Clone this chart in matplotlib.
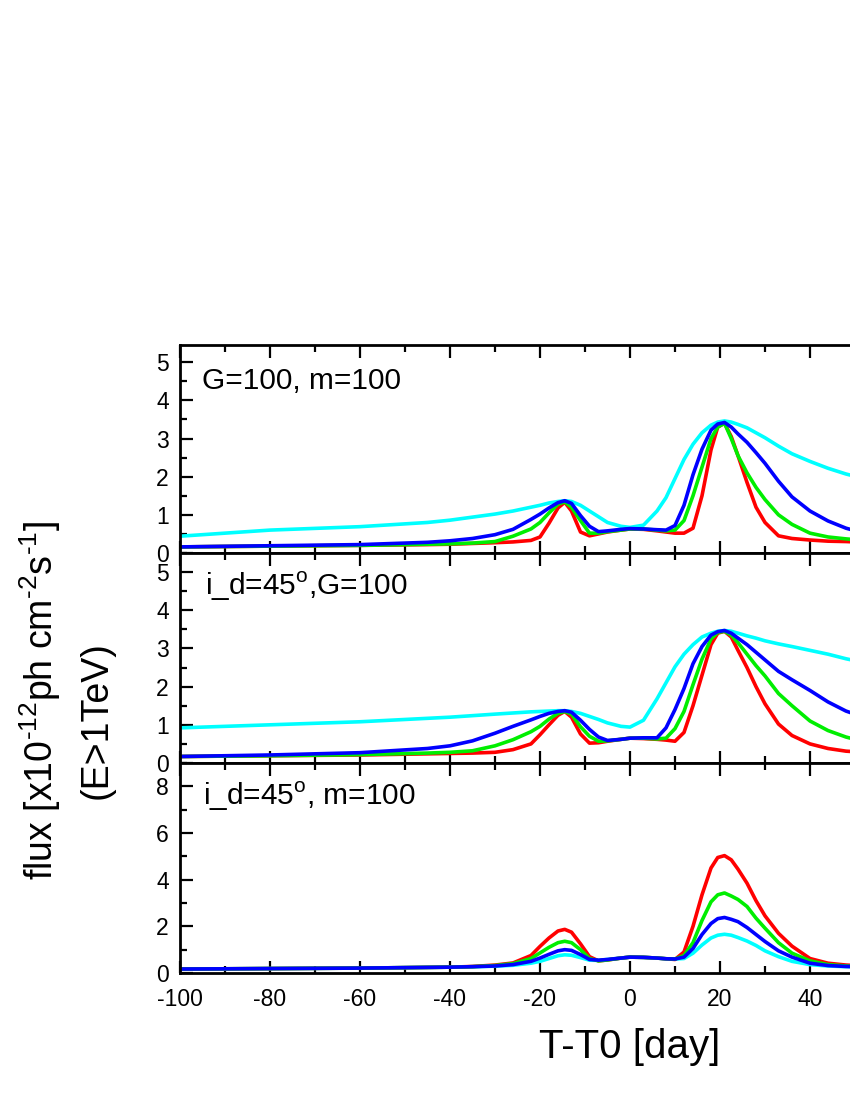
import matplotlib
matplotlib.use("Agg")
import matplotlib.pyplot as plt
from matplotlib.ticker import MultipleLocator, FixedLocator

plt.rcParams['font.family'] = ['Liberation Sans', 'DejaVu Sans']
plt.rcParams['mathtext.fontset'] = 'custom'
plt.rcParams['mathtext.rm'] = 'Liberation Sans'
plt.rcParams['axes.unicode_minus'] = False

# common time grid (days, T-T0)
t = [-100, -80, -60, -45, -40, -35, -30, -26, -22, -20, -18, -16, -14.5, -13, -11, -9, -7, -5, -2, 0,
     3, 6, 8, 10, 12, 14, 16, 18, 19.5, 21, 22.5, 24, 26, 28, 30, 33, 36, 40, 44, 48, 52, 56, 60]
x_ticks = [-100, -80, -60, -40, -20, 0, 20, 40]

# Panel 1: G=100, m=100
p1_red = [0.16, 0.18, 0.20, 0.22, 0.23, 0.25, 0.27, 0.29, 0.33, 0.42, 0.78, 1.18, 1.33, 1.10, 0.55, 0.45, 0.50, 0.55, 0.60, 0.63,
          0.62, 0.58, 0.55, 0.52, 0.52, 0.65, 1.50, 2.70, 3.30, 3.40, 3.05, 2.55, 1.85, 1.20, 0.80, 0.45, 0.38, 0.34, 0.31, 0.30, 0.28, 0.27, 0.26]
p1_green = [0.16, 0.18, 0.20, 0.23, 0.24, 0.26, 0.30, 0.44, 0.63, 0.80, 1.05, 1.28, 1.34, 1.20, 0.85, 0.52, 0.52, 0.56, 0.60, 0.63,
            0.63, 0.60, 0.58, 0.60, 0.85, 1.50, 2.25, 3.00, 3.30, 3.40, 3.00, 2.55, 2.10, 1.72, 1.40, 1.00, 0.75, 0.52, 0.42, 0.37, 0.33, 0.31, 0.30]
p1_blue = [0.16, 0.19, 0.22, 0.28, 0.32, 0.38, 0.48, 0.62, 0.88, 1.02, 1.18, 1.32, 1.37, 1.30, 0.98, 0.70, 0.56, 0.58, 0.62, 0.64,
           0.63, 0.61, 0.60, 0.72, 1.25, 2.05, 2.72, 3.22, 3.38, 3.42, 3.30, 3.12, 2.90, 2.63, 2.35, 1.88, 1.47, 1.10, 0.84, 0.65, 0.52, 0.44, 0.38]
p1_cyan = [0.44, 0.60, 0.69, 0.80, 0.86, 0.94, 1.02, 1.10, 1.20, 1.25, 1.31, 1.35, 1.37, 1.35, 1.25, 1.10, 0.95, 0.80, 0.70, 0.67,
           0.73, 1.10, 1.45, 1.95, 2.45, 2.85, 3.15, 3.35, 3.43, 3.46, 3.43, 3.37, 3.28, 3.15, 3.02, 2.80, 2.60, 2.40, 2.22, 2.07, 1.95, 1.85, 1.75]

# Panel 2: i_d=45, G=100
p2_red = [0.17, 0.19, 0.21, 0.24, 0.25, 0.26, 0.28, 0.35, 0.50, 0.74, 1.00, 1.25, 1.35, 1.20, 0.76, 0.52, 0.53, 0.57, 0.62, 0.65,
          0.64, 0.62, 0.60, 0.57, 0.80, 1.50, 2.30, 3.10, 3.40, 3.45, 3.30, 2.95, 2.50, 2.00, 1.55, 1.02, 0.72, 0.50, 0.38, 0.31, 0.28, 0.26, 0.25]
p2_green = [0.17, 0.19, 0.22, 0.26, 0.28, 0.32, 0.45, 0.61, 0.82, 0.96, 1.15, 1.30, 1.35, 1.28, 0.95, 0.70, 0.57, 0.58, 0.62, 0.65,
            0.65, 0.63, 0.65, 0.90, 1.35, 2.05, 2.72, 3.25, 3.42, 3.45, 3.35, 3.15, 2.85, 2.55, 2.28, 1.82, 1.50, 1.10, 0.85, 0.68, 0.56, 0.48, 0.42]
p2_blue = [0.17, 0.21, 0.27, 0.38, 0.45, 0.58, 0.78, 0.96, 1.13, 1.22, 1.30, 1.35, 1.37, 1.33, 1.12, 0.88, 0.68, 0.59, 0.62, 0.65,
           0.66, 0.66, 0.92, 1.40, 1.95, 2.60, 3.05, 3.35, 3.44, 3.47, 3.40, 3.27, 3.10, 2.90, 2.70, 2.40, 2.18, 1.90, 1.60, 1.36, 1.20, 1.08, 0.98]
p2_cyan = [0.92, 1.00, 1.08, 1.17, 1.20, 1.24, 1.28, 1.31, 1.34, 1.35, 1.36, 1.37, 1.37, 1.35, 1.30, 1.22, 1.14, 1.05, 0.96, 0.94,
           1.12, 1.68, 2.10, 2.52, 2.85, 3.10, 3.30, 3.40, 3.45, 3.47, 3.45, 3.40, 3.33, 3.27, 3.20, 3.12, 3.05, 2.95, 2.85, 2.73, 2.63, 2.53, 2.44]

# Panel 3: i_d=45, m=100
p3_red = [0.17, 0.19, 0.21, 0.24, 0.25, 0.28, 0.34, 0.43, 0.75, 1.14, 1.50, 1.80, 1.87, 1.75, 1.25, 0.70, 0.52, 0.56, 0.64, 0.68,
          0.67, 0.64, 0.61, 0.58, 0.90, 2.00, 3.35, 4.50, 4.95, 5.03, 4.85, 4.45, 3.85, 3.10, 2.45, 1.70, 1.15, 0.62, 0.42, 0.34, 0.30, 0.28, 0.27]
p3_green = [0.17, 0.19, 0.21, 0.24, 0.25, 0.27, 0.32, 0.40, 0.62, 0.86, 1.10, 1.30, 1.36, 1.30, 1.00, 0.62, 0.52, 0.56, 0.64, 0.68,
            0.67, 0.64, 0.61, 0.60, 0.75, 1.30, 2.25, 3.05, 3.35, 3.43, 3.30, 3.15, 2.85, 2.35, 1.92, 1.30, 0.85, 0.52, 0.36, 0.30, 0.27, 0.26, 0.25]
p3_blue = [0.17, 0.19, 0.21, 0.24, 0.25, 0.27, 0.30, 0.36, 0.50, 0.64, 0.80, 0.95, 1.00, 0.97, 0.79, 0.58, 0.55, 0.58, 0.64, 0.68,
           0.67, 0.64, 0.61, 0.60, 0.68, 1.05, 1.65, 2.12, 2.33, 2.38, 2.30, 2.20, 1.95, 1.65, 1.35, 0.95, 0.68, 0.42, 0.32, 0.28, 0.26, 0.25, 0.25]
p3_cyan = [0.17, 0.19, 0.21, 0.24, 0.25, 0.27, 0.29, 0.33, 0.42, 0.50, 0.62, 0.74, 0.78, 0.76, 0.66, 0.55, 0.54, 0.58, 0.64, 0.68,
           0.67, 0.64, 0.61, 0.60, 0.62, 0.85, 1.20, 1.50, 1.62, 1.66, 1.62, 1.52, 1.37, 1.18, 0.95, 0.70, 0.50, 0.36, 0.30, 0.27, 0.26, 0.25, 0.25]

panel_labels = ["G=100, m=100", r"i_d=45$^{\rm o}$,G=100", r"i_d=45$^{\rm o}$, m=100"]
colors = {"red": "#ff0000", "green": "#00ee00", "blue": "#0000ff", "cyan": "#00ffff"}

panels = [
    dict(curves=[("cyan", p1_cyan), ("red", p1_red), ("green", p1_green), ("blue", p1_blue)],
         ylim=(0, 5.45), major=1, minor=0.5, top=345, bottom=553),
    dict(curves=[("cyan", p2_cyan), ("red", p2_red), ("green", p2_green), ("blue", p2_blue)],
         ylim=(0, 5.5), major=1, minor=0.5, top=553, bottom=763),
    dict(curves=[("cyan", p3_cyan), ("red", p3_red), ("green", p3_green), ("blue", p3_blue)],
         ylim=(0, 9), major=2, minor=1, top=763, bottom=973),
]
label_pos = [(202, 389), (205, 595), (203, 805)]

W, H = 850, 1100
fig = plt.figure(figsize=(W / 100, H / 100), dpi=100)
left_px, right_px = 180, 1080

for i, p in enumerate(panels):
    ax = fig.add_axes([left_px / W, 1 - p["bottom"] / H, (right_px - left_px) / W, (p["bottom"] - p["top"]) / H])
    for cname, vals in p["curves"]:
        ax.plot(t, vals, color=colors[cname], lw=2.6, solid_joinstyle='round')
    ax.set_xlim(-100, 100)
    ax.set_ylim(*p["ylim"])
    ax.xaxis.set_major_locator(FixedLocator(x_ticks))
    ax.xaxis.set_minor_locator(MultipleLocator(10))
    ax.yaxis.set_major_locator(MultipleLocator(p["major"]))
    ax.yaxis.set_minor_locator(MultipleLocator(p["minor"]))
    ax.tick_params(which='both', direction='in', top=True, right=True, width=1.6, labelsize=16.5)
    ax.tick_params(which='major', length=9)
    ax.tick_params(which='minor', length=5)
    ax.tick_params(axis='y', pad=8)
    ax.tick_params(axis='x', pad=11)
    for s in ax.spines.values():
        s.set_linewidth(2.0)
    if i < 2:
        ax.tick_params(axis='x', labelbottom=False)
    else:
        ax.set_xlabel("T-T0 [day]", fontsize=29, labelpad=12)
    lx, ly = label_pos[i]
    fig.text(lx / W, 1 - ly / H, panel_labels[i], fontsize=21.5, ha='left', va='baseline')

fig.text(40 / W, 1 - 700 / H, r"flux [x10$^{\text{-12}}$ph cm$^{\text{-2}}$s$^{\text{-1}}$]",
         rotation=90, fontsize=27, ha='center', va='center')
fig.text(97 / W, 1 - 720 / H, "(E>1TeV)", rotation=90, fontsize=27, ha='center', va='center')

fig.savefig("out.png", dpi=100)
